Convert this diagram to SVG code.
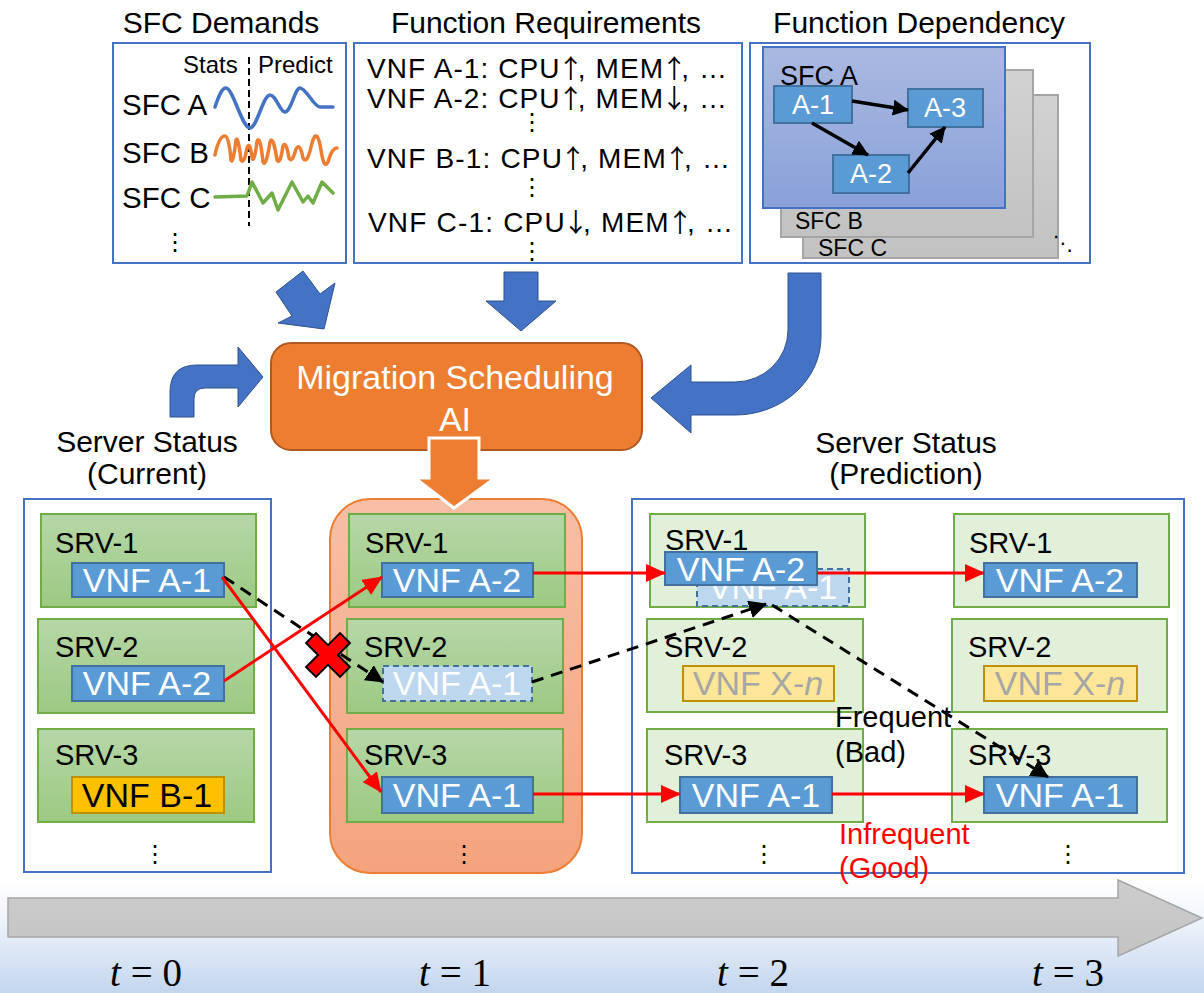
<svg xmlns="http://www.w3.org/2000/svg" width="1204" height="993" viewBox="0 0 1204 993">
<style>
text{font-family:"Liberation Sans",Arial,sans-serif;fill:#000}
.ttl{font-size:30px;text-anchor:middle}
.lbl{font-size:29.5px}
.ss{font-size:30px;text-anchor:middle}
.srv{font-size:29px}
.vnf{font-size:34px;fill:#fff;text-anchor:middle}
.req{font-size:28px}
.ar{font-family:"Noto Sans CJK JP","DejaVu Sans",sans-serif;font-size:26px}
.dots{font-family:"DejaVu Sans",sans-serif;font-size:24px;text-anchor:middle}
.box{fill:#fff;stroke:#4472C4;stroke-width:2}
.gsrv{fill:url(#gGreen);stroke:#70AD47;stroke-width:2}
.lsrv{fill:#E2F0D9;stroke:#70AD47;stroke-width:2}
.bvnf{fill:#5B9BD5;stroke:#41719C;stroke-width:2}
.ghost{fill:#BDD7EE;stroke:#41719C;stroke-width:2;stroke-dasharray:6 4}
.yvnf{fill:#FFC000;stroke:#BF9000;stroke-width:2}
.xvnf{fill:#FFE699;stroke:#BF9000;stroke-width:2}
.barrow{fill:#4472C4;stroke:#2F528F;stroke-width:1}
.red{stroke:#FF0000;stroke-width:3;fill:none;marker-end:url(#mRed)}
.dash{stroke:#000;stroke-width:3;fill:none;stroke-dasharray:12 8;marker-end:url(#mBlk)}
.dep{stroke:#000;stroke-width:3.5;fill:none;marker-end:url(#mDep)}
.ts{font-family:"Liberation Serif","Times New Roman",serif;font-size:39px;text-anchor:middle}
</style>
<defs>
<linearGradient id="gGreen" x1="0" y1="0" x2="0" y2="1"><stop offset="0" stop-color="#B6D7A8"/><stop offset="1" stop-color="#9CC982"/></linearGradient>
<linearGradient id="gSalmon" x1="0" y1="0" x2="0" y2="1"><stop offset="0" stop-color="#F7BFA6"/><stop offset="1" stop-color="#F4A37D"/></linearGradient>
<linearGradient id="gSfcA" x1="0" y1="0" x2="0" y2="1"><stop offset="0" stop-color="#AAB9E1"/><stop offset="1" stop-color="#89A1D9"/></linearGradient>
<linearGradient id="gGray" x1="0" y1="0" x2="0" y2="1"><stop offset="0" stop-color="#D2D2D2"/><stop offset="1" stop-color="#C2C2C2"/></linearGradient>
<linearGradient id="gBg" x1="0" y1="0" x2="0" y2="1"><stop offset="0" stop-color="#FFFFFF"/><stop offset="0.3" stop-color="#F2F6FC"/><stop offset="1" stop-color="#C3D6EE"/></linearGradient>
<linearGradient id="gTime" x1="0" y1="0" x2="0" y2="1"><stop offset="0" stop-color="#CDCDCD"/><stop offset="1" stop-color="#C3C3C3"/></linearGradient>
<marker id="mRed" viewBox="0 0 20 18" refX="19" refY="9" markerWidth="20" markerHeight="18" markerUnits="userSpaceOnUse" orient="auto"><path d="M0,0 L20,9 L0,18 Z" fill="#FF0000"/></marker>
<marker id="mBlk" viewBox="0 0 18 18" refX="17" refY="9" markerWidth="18" markerHeight="18" markerUnits="userSpaceOnUse" orient="auto"><path d="M0,0 L18,9 L0,18 Z" fill="#000"/></marker>
<marker id="mDep" viewBox="0 0 16 16" refX="15" refY="8" markerWidth="16" markerHeight="16" markerUnits="userSpaceOnUse" orient="auto"><path d="M0,0 L16,8 L0,16 Z" fill="#000"/></marker>
</defs>

<rect x="0" y="0" width="1204" height="993" fill="#fff"/>
<rect x="0" y="880" width="1204" height="113" fill="url(#gBg)"/>

<!-- SFC Demands -->
<g id="sfc-demands">
<text class="ttl" x="221" y="33">SFC Demands</text>
<rect class="box" x="113" y="43" width="233" height="220"/>
<text x="183" y="73" style="font-size:24px">Stats</text>
<text x="258" y="73" style="font-size:24px">Predict</text>
<line x1="249" y1="57" x2="249" y2="226" stroke="#000" stroke-width="2" stroke-dasharray="7 4"/>
<text class="lbl" x="122" y="115">SFC A</text>
<text class="lbl" x="122" y="163">SFC B</text>
<text class="lbl" x="122" y="208">SFC C</text>
<text class="dots" x="175" y="250">⋮</text>
<path d="M215,107 C219,95 222,88 226,88 C233,88 242,128 250,128 C257,128 263,95 270,95 C276,95 280,112 285,112 C291,112 295,88 300,88 C306,88 314,107 320,107 L333,107" fill="none" stroke="#4472C4" stroke-width="3.5" stroke-linecap="round"/>
<path d="M215,155 Q219,136 225,136 Q229,136 231,160 Q233,165 236,140 Q238,135 241,160 Q244,165 247,148 Q250,140 252,158 Q254,164 257,142 Q260,133 263,162 Q266,168 270,142 Q273,134 277,160 Q280,166 283,146 Q286,140 289,158 Q292,164 296,149 Q300,142 303,158 Q307,166 312,143 Q317,126 321,150 Q324,170 328,162 Q332,148 337,148" fill="none" stroke="#ED7D31" stroke-width="3.5" stroke-linejoin="round" stroke-linecap="round"/>
<polyline points="215,197 247,196 252,182 263,203 272,193 278,210 292,182 303,202 308,196 313,203 322,182 333,193" fill="none" stroke="#70AD47" stroke-width="3.5" stroke-linejoin="round" stroke-linecap="round"/>
</g>

<!-- Function Requirements -->
<g id="func-req">
<text class="ttl" x="546" y="33">Function Requirements</text>
<rect class="box" x="354" y="43" width="388" height="220"/>
<text class="req" x="367" y="78" textLength="360" lengthAdjust="spacing">VNF A-1: CPU<tspan class="ar" dx="-3">↑</tspan><tspan dx="-7">, MEM</tspan><tspan class="ar" dx="-3">↑</tspan><tspan dx="-7">, …</tspan></text>
<text class="req" x="367" y="108" textLength="360" lengthAdjust="spacing">VNF A-2: CPU<tspan class="ar" dx="-3">↑</tspan><tspan dx="-7">, MEM</tspan><tspan class="ar" dx="-3">↓</tspan><tspan dx="-7">, …</tspan></text>
<text class="req" x="367" y="168" textLength="363" lengthAdjust="spacing">VNF B-1: CPU<tspan class="ar" dx="-3">↑</tspan><tspan dx="-7">, MEM</tspan><tspan class="ar" dx="-3">↑</tspan><tspan dx="-7">, …</tspan></text>
<text class="req" x="368" y="232" textLength="365" lengthAdjust="spacing">VNF C-1: CPU<tspan class="ar" dx="-3">↓</tspan><tspan dx="-7">, MEM</tspan><tspan class="ar" dx="-3">↑</tspan><tspan dx="-7">, …</tspan></text>
<text class="dots" x="532" y="130">⋮</text>
<text class="dots" x="532" y="195">⋮</text>
<text class="dots" x="532" y="259">⋮</text>
</g>

<!-- Function Dependency -->
<g id="func-dep">
<text class="ttl" x="919" y="33">Function Dependency</text>
<rect class="box" x="750" y="43" width="340" height="220"/>
<rect x="803" y="95" width="255" height="163" fill="url(#gGray)" stroke="#A5A5A5" stroke-width="2"/>
<text x="818" y="256" style="font-size:23px">SFC C</text>
<rect x="781" y="70" width="252" height="167" fill="url(#gGray)" stroke="#A5A5A5" stroke-width="2"/>
<text x="795" y="229" style="font-size:23px">SFC B</text>
<rect x="763" y="47" width="242" height="161" fill="url(#gSfcA)" stroke="#4472C4" stroke-width="2"/>
<text x="780" y="85" style="font-size:27px">SFC A</text>
<g id="dep-a1"><rect class="bvnf" x="774" y="86" width="78" height="37"/><text x="813" y="114" style="font-size:27px;fill:#fff;text-anchor:middle">A-1</text></g>
<g id="dep-a3"><rect class="bvnf" x="908" y="89" width="75" height="38"/><text x="945" y="117" style="font-size:27px;fill:#fff;text-anchor:middle">A-3</text></g>
<g id="dep-a2"><rect class="bvnf" x="833" y="155" width="76" height="38"/><text x="871" y="183" style="font-size:27px;fill:#fff;text-anchor:middle">A-2</text></g>
<text x="1063" y="250" style="font-family:'DejaVu Sans',sans-serif;font-size:20px;text-anchor:middle">⋱</text>
</g>

<!-- AI box -->
<g id="ai">
<rect x="271" y="343" width="371" height="107" rx="20" fill="#ED7D31" stroke="#AE5A21" stroke-width="2"/>
<text x="455" y="389" style="font-size:34px;fill:#fff;text-anchor:middle">Migration Scheduling</text>
<text x="455" y="431" style="font-size:34px;fill:#fff;text-anchor:middle">AI</text>
</g>

<text class="ss" x="147" y="452">Server Status</text>
<text class="ss" x="147" y="484">(Current)</text>
<text class="ss" x="906" y="453">Server Status</text>
<text class="ss" x="906" y="484">(Prediction)</text>

<!-- t=0 column -->
<g id="col-t0">
<rect class="box" x="24" y="499" width="247" height="373"/>
<g id="t0-srv1"><rect class="gsrv" x="41" y="514" width="215" height="93"/><text class="srv" x="55" y="553">SRV-1</text>
<rect class="bvnf" x="72" y="563" width="152" height="34"/><text class="vnf" x="147" y="592">VNF A-1</text></g>
<g id="t0-srv2"><rect class="gsrv" x="38" y="619" width="216" height="94"/><text class="srv" x="55" y="657">SRV-2</text>
<rect class="bvnf" x="72" y="666" width="152" height="35"/><text class="vnf" x="147" y="695">VNF A-2</text></g>
<g id="t0-srv3"><rect class="gsrv" x="38" y="729" width="216" height="93"/><text class="srv" x="55" y="765">SRV-3</text>
<rect class="yvnf" x="72" y="777" width="152" height="36"/><text class="vnf" x="147" y="807" style="fill:#000">VNF B-1</text></g>
<text class="dots" x="155" y="862">⋮</text>
</g>

<!-- t=1 column -->
<g id="col-t1">
<rect x="330" y="499" width="252" height="374" rx="40" fill="url(#gSalmon)" stroke="#ED7D31" stroke-width="2"/>
<g id="t1-srv1"><rect class="gsrv" x="349" y="514" width="216" height="93"/><text class="srv" x="365" y="553">SRV-1</text>
<rect class="bvnf" x="382" y="563" width="151" height="34"/><text class="vnf" x="457" y="592">VNF A-2</text></g>
<g id="t1-srv2"><rect class="gsrv" x="347" y="619" width="216" height="94"/><text class="srv" x="364" y="657">SRV-2</text>
<rect class="ghost" x="383" y="666" width="149" height="35"/><text class="vnf" x="457" y="695">VNF A-1</text></g>
<g id="t1-srv3"><rect class="gsrv" x="347" y="729" width="216" height="93"/><text class="srv" x="364" y="765">SRV-3</text>
<rect class="bvnf" x="382" y="777" width="151" height="36"/><text class="vnf" x="457" y="807">VNF A-1</text></g>
<text class="dots" x="464" y="862">⋮</text>
</g>

<!-- Prediction columns -->
<g id="col-pred">
<rect class="box" x="632" y="499" width="552" height="374"/>
<g id="t2-srv1"><rect class="lsrv" x="650" y="514" width="215" height="93"/><text class="srv" x="665" y="550">SRV-1</text>
<rect class="ghost" x="697" y="569" width="152" height="37"/><text class="vnf" x="773" y="599">VNF A-1</text>
<rect class="bvnf" x="665" y="552" width="152" height="33"/><text class="vnf" x="741" y="581">VNF A-2</text></g>
<g id="t2-srv2"><rect class="lsrv" x="647" y="619" width="216" height="93"/><text class="srv" x="664" y="657">SRV-2</text>
<rect class="xvnf" x="683" y="666" width="151" height="35"/><text class="vnf" x="758" y="695" style="fill:#A6A6A6">VNF X-<tspan font-style="italic">n</tspan></text></g>
<g id="t2-srv3"><rect class="lsrv" x="647" y="729" width="216" height="93"/><text class="srv" x="664" y="765">SRV-3</text>
<rect class="bvnf" x="680" y="777" width="152" height="36"/><text class="vnf" x="756" y="807">VNF A-1</text></g>
<g id="t3-srv1"><rect class="lsrv" x="954" y="514" width="215" height="93"/><text class="srv" x="969" y="553">SRV-1</text>
<rect class="bvnf" x="984" y="563" width="153" height="34"/><text class="vnf" x="1060" y="592">VNF A-2</text></g>
<g id="t3-srv2"><rect class="lsrv" x="952" y="619" width="215" height="93"/><text class="srv" x="968" y="657">SRV-2</text>
<rect class="xvnf" x="984" y="666" width="153" height="35"/><text class="vnf" x="1060" y="695" style="fill:#A6A6A6">VNF X-<tspan font-style="italic">n</tspan></text></g>
<g id="t3-srv3"><rect class="lsrv" x="952" y="729" width="215" height="93"/><text class="srv" x="968" y="765">SRV-3</text>
<rect class="bvnf" x="984" y="777" width="153" height="36"/><text class="vnf" x="1060" y="807">VNF A-1</text></g>
<text class="dots" x="764" y="862">⋮</text>
<text class="dots" x="1068" y="862">⋮</text>
</g>

<!-- Connectors -->
<g id="connectors">
<line class="dep" x1="852" y1="101" x2="908" y2="110"/>
<line class="dep" x1="812" y1="123" x2="868" y2="155"/>
<line class="dep" x1="908" y1="173" x2="945" y2="127"/>

<polygon class="barrow" points="303,271 320,294 335,283 324,329 278,323 292,316 276,292"/>
<polygon class="barrow" points="504,272 538,272 538,301 556,301 521,331 486,301 504,301"/>
<path class="barrow" d="M170,417 L170,392 Q170,365 197,365 L238,365 L238,347 L263,377 L238,407 L238,388 L205,388 Q194,388 194,399 L194,417 Z"/>
<path class="barrow" d="M788,273 L821,273 L821,337 A86,78 0 0 1 735,415 L691,415 L691,433 L651,398 L691,365 L691,382 L735,382 A53,52 0 0 0 788,330 Z"/>
<polygon points="429,438 479,438 479,478 495,478 454,508 415,478 429,478" fill="#ED7D31" stroke="#fff" stroke-width="3"/>

<line class="dash" x1="224" y1="577" x2="383" y2="682"/>
<line class="red" x1="224" y1="681" x2="382" y2="577"/>
<line class="red" x1="222" y1="577" x2="381" y2="792"/>
<line class="red" x1="533" y1="573" x2="665" y2="573"/>
<line class="red" x1="817" y1="573" x2="984" y2="573"/>
<line class="red" x1="533" y1="794" x2="680" y2="794"/>
<line class="red" x1="832" y1="794" x2="984" y2="794"/>
<line class="dash" x1="532" y1="682" x2="766" y2="604"/>
<line class="dash" x1="772" y1="605" x2="1048" y2="777"/>
<polygon transform="translate(328,655) rotate(45)" points="7,-24 7,-7 24,-7 24,7 7,7 7,24 -7,24 -7,7 -24,7 -24,-7 -7,-7 -7,-24" fill="#FF0000" stroke="#000" stroke-width="2" stroke-linejoin="miter"/>
</g>

<text x="835" y="727" style="font-size:29px">Frequent</text>
<text x="835" y="762" style="font-size:29px">(Bad)</text>
<text x="839" y="844" style="font-size:29px;fill:#FF0000">Infrequent</text>
<text x="839" y="878" style="font-size:29px;fill:#FF0000">(Good)</text>

<!-- Timeline -->
<g id="timeline">
<polygon points="8,898 1118,898 1118,880 1202,918 1118,956 1118,937 8,937" fill="url(#gTime)" stroke="#A6A6A6" stroke-width="1.5"/>
<text class="ts" x="146" y="986"><tspan font-style="italic">t</tspan> = 0</text>
<text class="ts" x="455" y="986"><tspan font-style="italic">t</tspan> = 1</text>
<text class="ts" x="753" y="986"><tspan font-style="italic">t</tspan> = 2</text>
<text class="ts" x="1068" y="986"><tspan font-style="italic">t</tspan> = 3</text>
</g>
</svg>
